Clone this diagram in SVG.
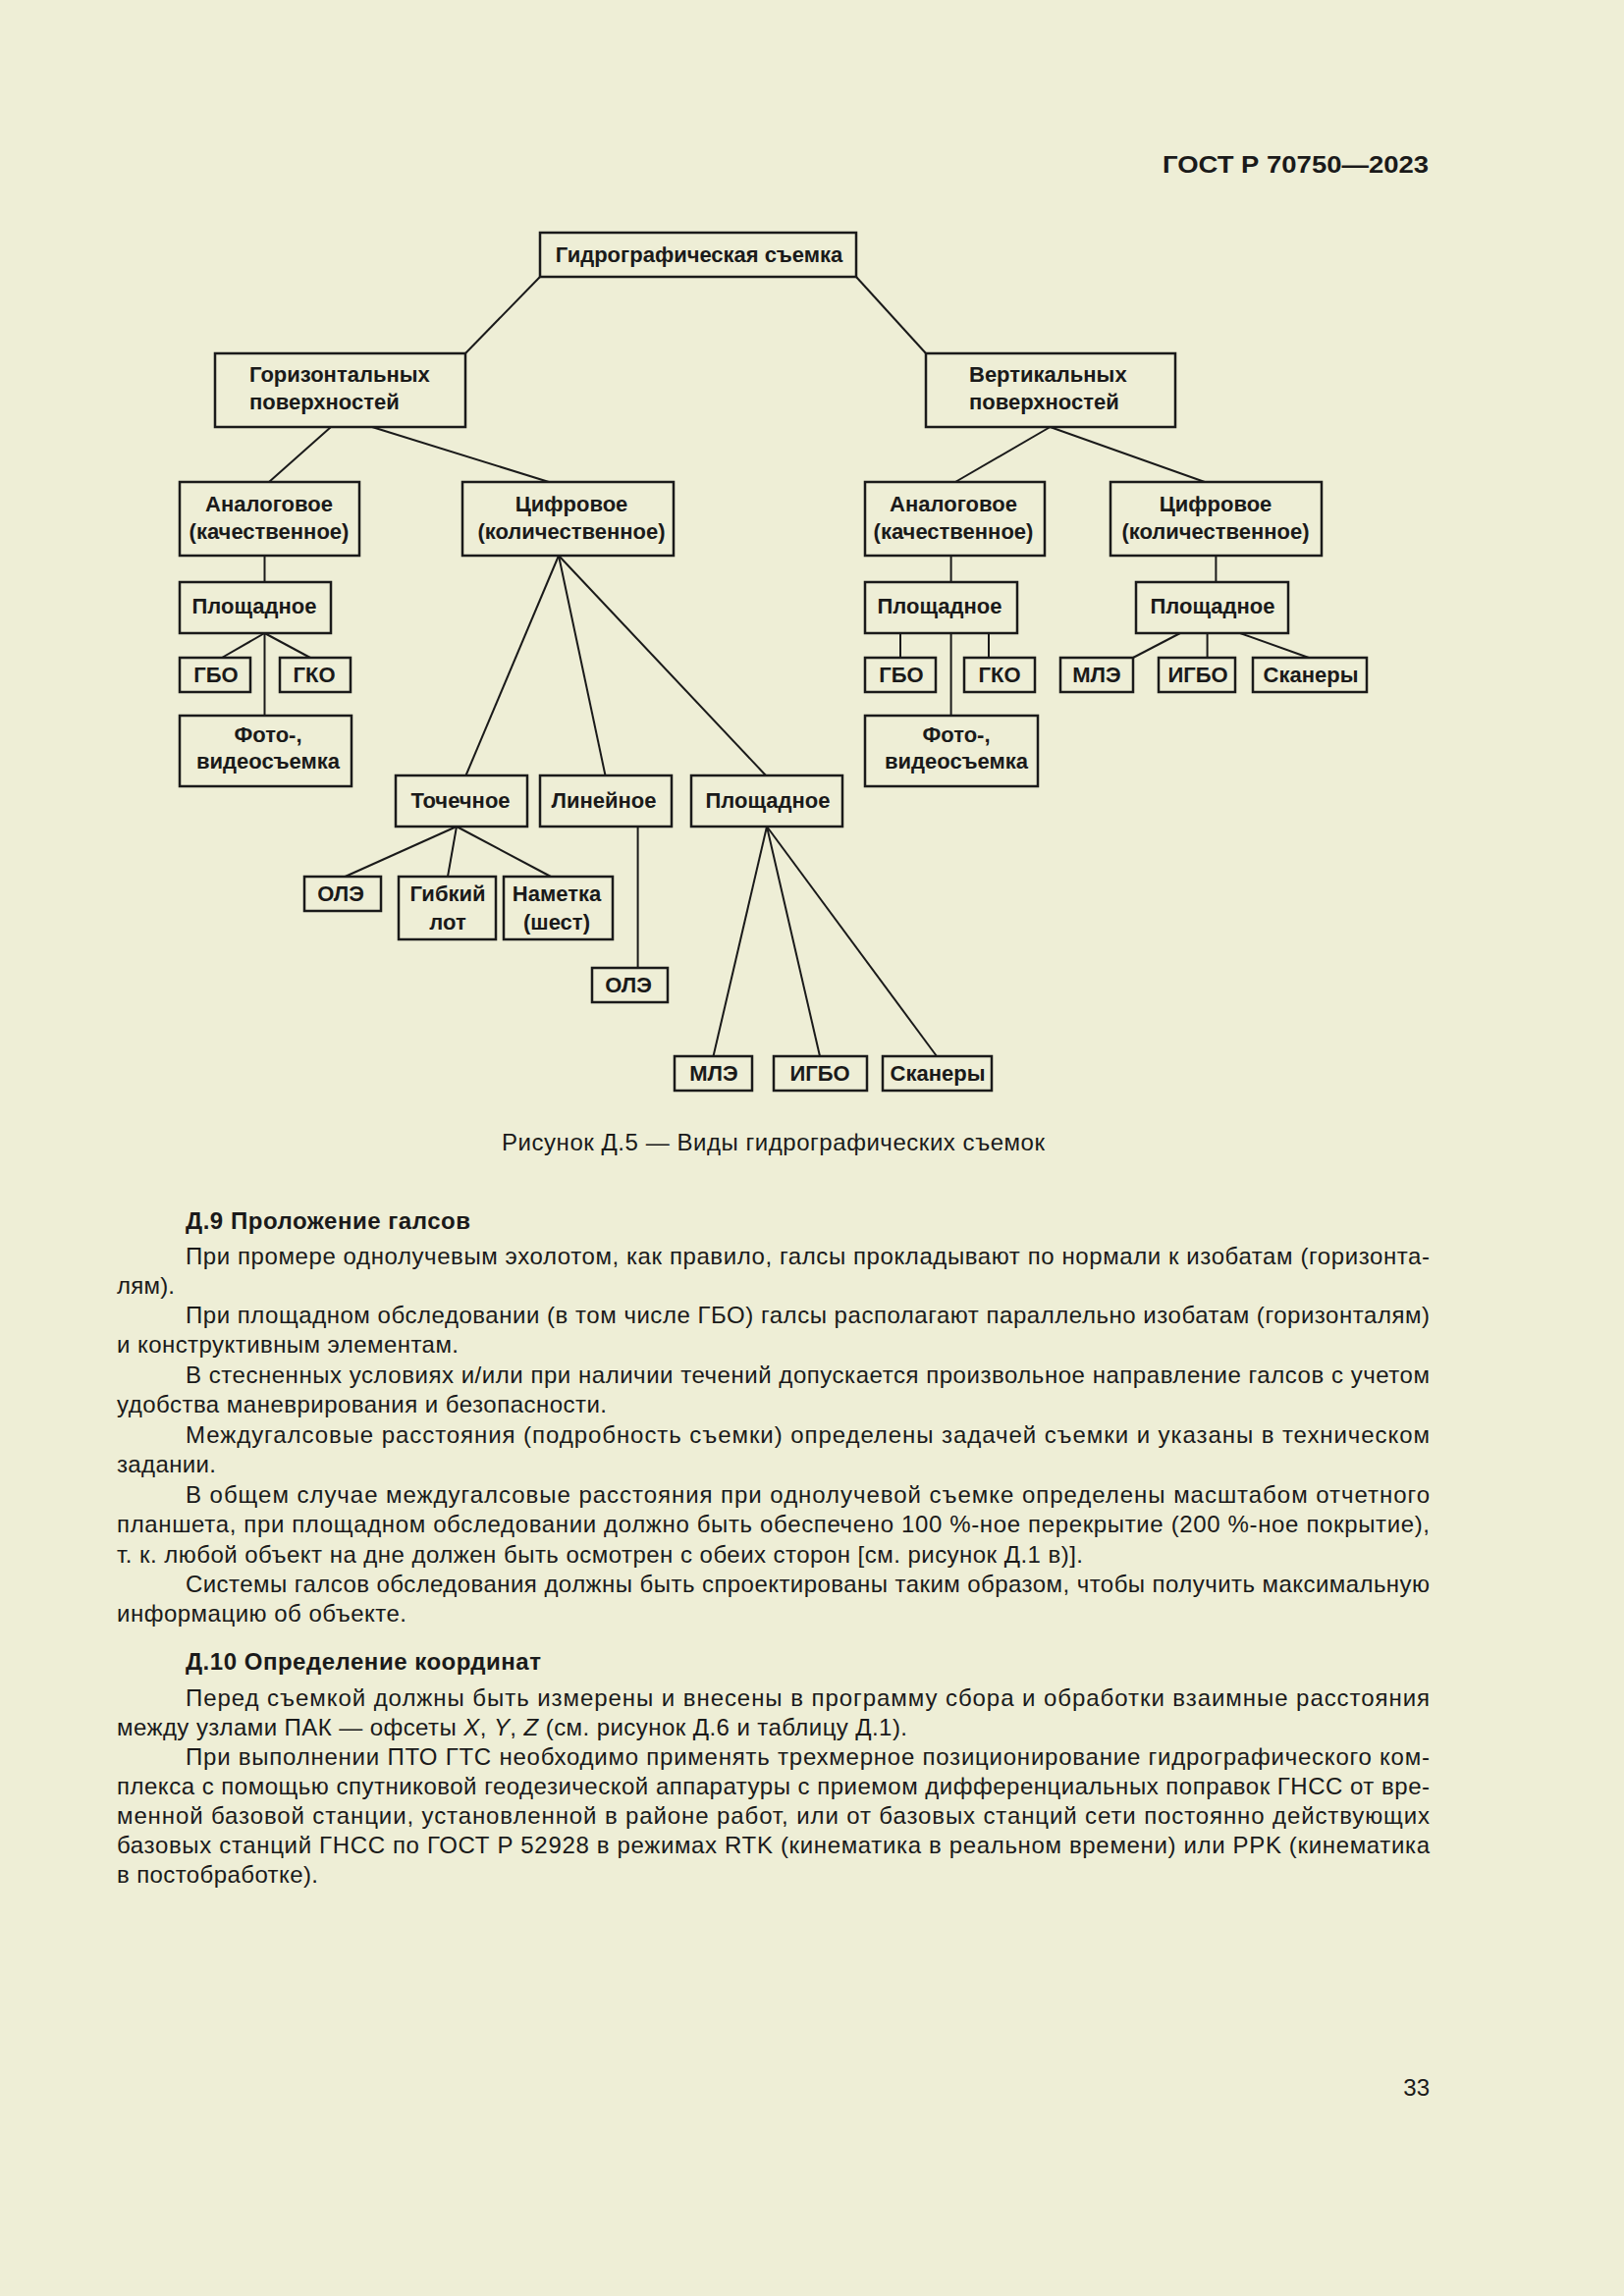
<svg xmlns="http://www.w3.org/2000/svg" width="1654" height="2339" viewBox="0 0 1654 2339">
<style>
.bg{fill:#EEEED6}
.b{fill:none;stroke:#1a1a1a;stroke-width:2.5}
.c line{stroke:#1a1a1a;stroke-width:2}
.t{font-family:"Liberation Sans",Arial,sans-serif;font-size:22px;font-weight:bold;fill:#1a1a1a;text-anchor:middle}
.tl{text-anchor:start}
.p{font-family:"Liberation Sans",Arial,sans-serif;font-size:24px;fill:#1a1a1a}
.pb{font-weight:bold}
.i{font-style:italic}
</style>
<rect class="bg" x="0" y="0" width="1654" height="2339"/>
<text class="p pb" x="1184" y="176" font-size="28" textLength="271" lengthAdjust="spacingAndGlyphs">ГОСТ Р 70750—2023</text>

<g id="connectors" class="c">
<line x1="550" y1="282" x2="474" y2="360"/>
<line x1="872" y1="282" x2="943" y2="360"/>
<line x1="337" y1="435" x2="274" y2="491"/>
<line x1="379" y1="435" x2="559" y2="491"/>
<line x1="1069.5" y1="435" x2="973" y2="491"/>
<line x1="1069.5" y1="435" x2="1227" y2="491"/>
<line x1="269.5" y1="566" x2="269.5" y2="593"/>
<line x1="269.5" y1="645" x2="226" y2="670"/>
<line x1="269.5" y1="645" x2="316" y2="670"/>
<line x1="269.5" y1="645" x2="269.5" y2="729"/>
<line x1="569" y1="566" x2="474.5" y2="790"/>
<line x1="569" y1="566" x2="616.5" y2="790"/>
<line x1="569" y1="566" x2="780" y2="790"/>
<line x1="465" y1="842" x2="351.5" y2="893"/>
<line x1="465" y1="842" x2="456" y2="893"/>
<line x1="465" y1="842" x2="561" y2="893"/>
<line x1="649.6" y1="842" x2="649.6" y2="986"/>
<line x1="781" y1="842" x2="726.5" y2="1076"/>
<line x1="781" y1="842" x2="835" y2="1076"/>
<line x1="781" y1="842" x2="954" y2="1076"/>
<line x1="968.6" y1="566" x2="968.6" y2="593"/>
<line x1="917" y1="645" x2="917" y2="670"/>
<line x1="1007" y1="645" x2="1007" y2="670"/>
<line x1="968.6" y1="645" x2="968.6" y2="729"/>
<line x1="1238.4" y1="566" x2="1238.4" y2="593"/>
<line x1="1202" y1="645" x2="1154" y2="670"/>
<line x1="1229.6" y1="645" x2="1229.6" y2="670"/>
<line x1="1263" y1="645" x2="1333" y2="670"/>
</g>

<g id="root"><rect class="b" x="550" y="237" width="322" height="45"/><text class="t" x="712" y="267">Гидрографическая съемка</text></g>
<g id="horiz"><rect class="b" x="219" y="360" width="255" height="75"/><text class="t tl" x="254" y="389">Горизонтальных</text><text class="t tl" x="254" y="417">поверхностей</text></g>
<g id="vert"><rect class="b" x="943" y="360" width="254" height="75"/><text class="t tl" x="987" y="389">Вертикальных</text><text class="t tl" x="987" y="417">поверхностей</text></g>
<g id="analogL"><rect class="b" x="183" y="491" width="183" height="75"/><text class="t" x="274" y="521">Аналоговое</text><text class="t" x="274" y="549">(качественное)</text></g>
<g id="cifrL"><rect class="b" x="471" y="491" width="215" height="75"/><text class="t" x="582" y="521">Цифровое</text><text class="t" x="582" y="549">(количественное)</text></g>
<g id="analogR"><rect class="b" x="881" y="491" width="183" height="75"/><text class="t" x="971" y="521">Аналоговое</text><text class="t" x="971" y="549">(качественное)</text></g>
<g id="cifrR"><rect class="b" x="1131" y="491" width="215" height="75"/><text class="t" x="1238" y="521">Цифровое</text><text class="t" x="1238" y="549">(количественное)</text></g>
<g id="ploshL"><rect class="b" x="183" y="593" width="154" height="52"/><text class="t" x="259" y="625">Площадное</text></g>
<g id="gboL"><rect class="b" x="183" y="670" width="72" height="35"/><text class="t" x="220" y="695">ГБО</text></g>
<g id="gkoL"><rect class="b" x="285" y="670" width="72" height="35"/><text class="t" x="320" y="695">ГКО</text></g>
<g id="fotoL"><rect class="b" x="183" y="729" width="175" height="72"/><text class="t" x="273" y="756">Фото-,</text><text class="t" x="273" y="783">видеосъемка</text></g>
<g id="ploshR"><rect class="b" x="881" y="593" width="155" height="52"/><text class="t" x="957" y="625">Площадное</text></g>
<g id="gboR"><rect class="b" x="881" y="670" width="72" height="35"/><text class="t" x="918" y="695">ГБО</text></g>
<g id="gkoR"><rect class="b" x="982" y="670" width="72" height="35"/><text class="t" x="1018" y="695">ГКО</text></g>
<g id="fotoR"><rect class="b" x="881" y="729" width="176" height="72"/><text class="t" x="974" y="756">Фото-,</text><text class="t" x="974" y="783">видеосъемка</text></g>
<g id="ploshRR"><rect class="b" x="1157" y="593" width="155" height="52"/><text class="t" x="1235" y="625">Площадное</text></g>
<g id="mleR"><rect class="b" x="1080" y="670" width="74" height="35"/><text class="t" x="1117" y="695">МЛЭ</text></g>
<g id="igboR"><rect class="b" x="1180" y="670" width="78" height="35"/><text class="t" x="1220" y="695">ИГБО</text></g>
<g id="skanR"><rect class="b" x="1276" y="670" width="116" height="35"/><text class="t" x="1335" y="695">Сканеры</text></g>
<g id="tochech"><rect class="b" x="403" y="790" width="134" height="52"/><text class="t" x="469" y="823">Точечное</text></g>
<g id="lineyn"><rect class="b" x="550" y="790" width="134" height="52"/><text class="t" x="615" y="823">Линейное</text></g>
<g id="ploshM"><rect class="b" x="704" y="790" width="154" height="52"/><text class="t" x="782" y="823">Площадное</text></g>
<g id="ole1"><rect class="b" x="310" y="893" width="78" height="35"/><text class="t" x="347" y="918">ОЛЭ</text></g>
<g id="gibkiy"><rect class="b" x="406" y="893" width="99" height="64"/><text class="t" x="456" y="918">Гибкий</text><text class="t" x="456" y="947">лот</text></g>
<g id="nametka"><rect class="b" x="513" y="893" width="111" height="64"/><text class="t" x="567" y="918">Наметка</text><text class="t" x="567" y="947">(шест)</text></g>
<g id="ole2"><rect class="b" x="603" y="986" width="77" height="35"/><text class="t" x="640" y="1011">ОЛЭ</text></g>
<g id="mleM"><rect class="b" x="687" y="1076" width="79" height="35"/><text class="t" x="727" y="1101">МЛЭ</text></g>
<g id="igboM"><rect class="b" x="788" y="1076" width="95" height="35"/><text class="t" x="835" y="1101">ИГБО</text></g>
<g id="skanM"><rect class="b" x="899" y="1076" width="111" height="35"/><text class="t" x="955" y="1101">Сканеры</text></g>

<text class="p" x="511" y="1172" textLength="553" lengthAdjust="spacing">Рисунок Д.5 — Виды гидрографических съемок</text>

<text class="p pb" x="189" y="1252" textLength="290" lengthAdjust="spacing">Д.9 Проложение галсов</text>
<text class="p" x="189" y="1288" textLength="1267" lengthAdjust="spacing">При промере однолучевым эхолотом, как правило, галсы прокладывают по нормали к изобатам (горизонта-</text>
<text class="p" x="119" y="1318" textLength="59" lengthAdjust="spacing">лям).</text>
<text class="p" x="189" y="1348" textLength="1267" lengthAdjust="spacing">При площадном обследовании (в том числе ГБО) галсы располагают параллельно изобатам (горизонталям)</text>
<text class="p" x="119" y="1378" textLength="348" lengthAdjust="spacing">и конструктивным элементам.</text>
<text class="p" x="189" y="1409" textLength="1267" lengthAdjust="spacing">В стесненных условиях и/или при наличии течений допускается произвольное направление галсов с учетом</text>
<text class="p" x="119" y="1439" textLength="499" lengthAdjust="spacing">удобства маневрирования и безопасности.</text>
<text class="p" x="189" y="1470" textLength="1267" lengthAdjust="spacing">Междугалсовые расстояния (подробность съемки) определены задачей съемки и указаны в техническом</text>
<text class="p" x="119" y="1500" textLength="101" lengthAdjust="spacing">задании.</text>
<text class="p" x="189" y="1531" textLength="1267" lengthAdjust="spacing">В общем случае междугалсовые расстояния при однолучевой съемке определены масштабом отчетного</text>
<text class="p" x="119" y="1561" textLength="1337" lengthAdjust="spacing">планшета, при площадном обследовании должно быть обеспечено 100 %-ное перекрытие (200 %-ное покрытие),</text>
<text class="p" x="119" y="1592" textLength="984" lengthAdjust="spacing">т. к. любой объект на дне должен быть осмотрен с обеих сторон [см. рисунок Д.1 в)].</text>
<text class="p" x="189" y="1622" textLength="1267" lengthAdjust="spacing">Системы галсов обследования должны быть спроектированы таким образом, чтобы получить максимальную</text>
<text class="p" x="119" y="1652" textLength="295" lengthAdjust="spacing">информацию об объекте.</text>

<text class="p pb" x="189" y="1701" textLength="362" lengthAdjust="spacing">Д.10 Определение координат</text>
<text class="p" x="189" y="1738" textLength="1267" lengthAdjust="spacing">Перед съемкой должны быть измерены и внесены в программу сбора и обработки взаимные расстояния</text>
<text class="p" x="119" y="1768" textLength="805" lengthAdjust="spacing">между узлами ПАК — офсеты <tspan class="i">X</tspan>, <tspan class="i">Y</tspan>, <tspan class="i">Z</tspan> (см. рисунок Д.6 и таблицу Д.1).</text>
<text class="p" x="189" y="1798" textLength="1267" lengthAdjust="spacing">При выполнении ПТО ГТС необходимо применять трехмерное позиционирование гидрографического ком-</text>
<text class="p" x="119" y="1828" textLength="1337" lengthAdjust="spacing">плекса с помощью спутниковой геодезической аппаратуры с приемом дифференциальных поправок ГНСС от вре-</text>
<text class="p" x="119" y="1858" textLength="1337" lengthAdjust="spacing">менной базовой станции, установленной в районе работ, или от базовых станций сети постоянно действующих</text>
<text class="p" x="119" y="1888" textLength="1337" lengthAdjust="spacing">базовых станций ГНСС по ГОСТ Р 52928 в режимах RTK (кинематика в реальном времени) или PPK (кинематика</text>
<text class="p" x="119" y="1918" textLength="205" lengthAdjust="spacing">в постобработке).</text>

<text class="p" x="1456" y="2135" text-anchor="end">33</text>
</svg>
